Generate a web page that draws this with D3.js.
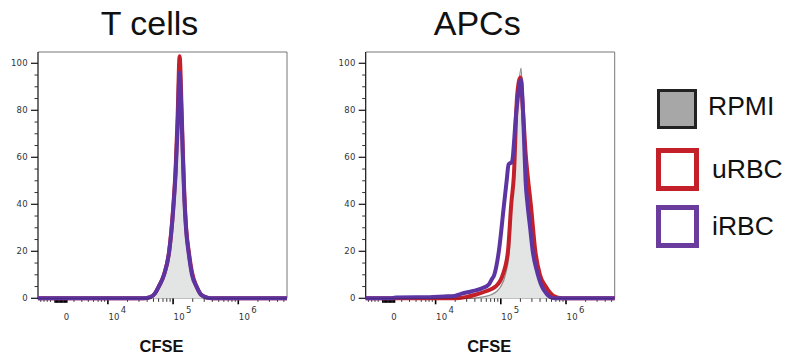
<!DOCTYPE html>
<html>
<head>
<meta charset="utf-8">
<script src="https://cdn.jsdelivr.net/npm/d3@7"></script>
<style>
  body { margin: 0; background: #fff; }
  svg { display: block; font-family: "Liberation Sans", Arial, sans-serif; }
  .tick-label { font-family: "DejaVu Sans", sans-serif; font-size: 8.5px; fill: #333; letter-spacing: 0.3px; }
</style>
</head>
<body>
<div id="chart"></div>
<script>
// x values are in display decades (log10 of CFSE intensity), y in % of max
const xDomain = [2.928, 6.747];
const yDomain = [0, 104.8];
const yMajor = [0, 20, 40, 60, 80, 100];
const yMinor = [5, 10, 15, 25, 30, 35, 45, 50, 55, 65, 70, 75, 85, 90, 95];
const xMajor = [4, 5, 6];
const xZero = 3.365;
const xMinorLow = [2.97, 3.02, 3.07, 3.12, 3.48, 3.60, 3.70, 3.78, 3.85, 3.90, 3.95];
const xZeroBlock = [3.19, 3.21, 3.23, 3.25, 3.27, 3.29, 3.31, 3.33, 3.35, 3.37];
const xMinorLog = [4.301, 4.477, 4.602, 4.699, 4.778, 4.845, 4.903, 4.954,
                   5.301, 5.477, 5.602, 5.699, 5.778, 5.845, 5.903, 5.954,
                   6.301, 6.477, 6.602, 6.699];

const panelTitles = ["T cells", "APCs"];

// T cells
const tRpmi = [[2.928,0],[4.55,0],[4.65,0.5],[4.72,2],[4.78,5],[4.86,10],[4.94,20],[5.00,37],[5.04,54],[5.07,74],[5.10,99],[5.13,79],[5.15,61],[5.17,45],[5.20,30],[5.24,20],[5.29,11],[5.36,5],[5.43,1.5],[5.52,0.3],[5.60,0],[6.747,0]];
const tUrbc = [[2.928,0],[4.55,0],[4.65,0.5],[4.72,2],[4.78,5],[4.86,10],[4.94,20],[5.00,38],[5.04,56],[5.07,78],[5.10,103],[5.13,81],[5.15,62],[5.17,46],[5.20,30],[5.24,20],[5.29,11],[5.36,5],[5.43,1.5],[5.52,0.3],[5.60,0],[6.747,0]];
const tIrbc = [[2.928,0],[4.55,0],[4.65,0.5],[4.72,2],[4.78,5],[4.86,10],[4.94,20],[5.00,37],[5.04,54],[5.07,73],[5.10,96],[5.13,77],[5.15,60],[5.17,44],[5.20,29],[5.24,19],[5.29,10],[5.36,5],[5.43,1.5],[5.52,0.3],[5.60,0],[6.747,0]];

// APCs
const aRpmi = [[2.928,0],[4.50,0],[4.70,0.5],[4.85,1.5],[4.94,3],[5.00,5],[5.07,10],[5.13,20],[5.17,40],[5.21,55],[5.25,80],[5.28,92],[5.31,98],[5.34,82],[5.37,55],[5.40,40],[5.44,30],[5.48,20],[5.54,12],[5.62,5],[5.70,1.5],[5.78,0],[6.747,0]];
const aUrbc = [[2.928,0],[4.30,0],[4.46,0.5],[4.61,1.5],[4.77,3],[4.92,5],[5.03,10],[5.11,20],[5.16,40],[5.20,52],[5.25,86],[5.30,94],[5.34,80],[5.38,62],[5.42,50],[5.46,40],[5.53,20],[5.60,10],[5.69,5],[5.81,1],[5.94,0],[6.747,0]];
const aIrbc = [[2.928,0],[3.30,0],[3.39,0.3],[3.70,0.5],[3.90,0.5],[4.13,0.8],[4.29,1],[4.40,2],[4.56,3],[4.71,4.2],[4.82,6],[4.86,8],[4.90,10],[4.97,20],[5.05,40],[5.09,50],[5.12,57],[5.17,58],[5.24,80],[5.31,93],[5.34,80],[5.36,65],[5.38,50],[5.41,40],[5.45,30],[5.49,20],[5.55,12],[5.63,5],[5.70,2],[5.76,0.5],[5.82,0],[6.747,0]];

const panelData = [
  { rpmi: tRpmi, urbc: tUrbc, irbc: tIrbc },
  { rpmi: aRpmi, urbc: aUrbc, irbc: aIrbc }
];

const legendLabels = ["RPMI", "uRBC", "iRBC"];
const COLORS = { rpmi: "#a7a7a7", fill: "#e3e4e4", rpmiLine: "#8c8c8c", urbc: "#c42029", irbc: "#5c35a3" };

const W = 787, H = 364;
const panelX = [38, 365.7], panelY = 52, pw = 249, ph = 246.3;

const svg = d3.select("#chart").append("svg")
  .attr("width", W).attr("height", H);

const x = d3.scaleLinear().domain(xDomain).range([0, pw]);
const y = d3.scaleLinear().domain(yDomain).range([ph, 0]);

const line = d3.line().x(d => x(d[0])).y(d => y(d[1])).curve(d3.curveMonotoneX);
const area = d3.area().x(d => x(d[0])).y0(y(0)).y1(d => y(d[1])).curve(d3.curveMonotoneX);

panelTitles.forEach((title, i) => {
  const g = svg.append("g").attr("transform", "translate(" + panelX[i] + "," + panelY + ")");
  const data = panelData[i];

  // frame
  g.append("path")
    .attr("d", "M0,0H" + pw + "V" + ph)
    .attr("fill", "none").attr("stroke", "#777").attr("stroke-width", 1);

  // y axis
  g.append("line").attr("x1", 0).attr("x2", 0).attr("y1", 0).attr("y2", ph + 1)
    .attr("stroke", "#111").attr("stroke-width", 1.2);
  g.selectAll(".ymaj").data(yMajor).enter().append("line")
    .attr("x1", -7).attr("x2", 0).attr("y1", d => y(d)).attr("y2", d => y(d))
    .attr("stroke", "#111").attr("stroke-width", 1.2);
  g.selectAll(".ymin").data(yMinor).enter().append("line")
    .attr("x1", -3.5).attr("x2", 0).attr("y1", d => y(d)).attr("y2", d => y(d))
    .attr("stroke", "#333").attr("stroke-width", 1);
  g.selectAll(".ylab").data(yMajor).enter().append("text")
    .attr("class", "tick-label")
    .attr("x", -10).attr("y", d => y(d) + 2.5)
    .attr("text-anchor", "end")
    .text(d => d);

  // x axis
  g.selectAll(".xmin").data(xMinorLow.concat(xMinorLog)).enter().append("line")
    .attr("x1", d => x(d)).attr("x2", d => x(d)).attr("y1", ph).attr("y2", ph + 3.5)
    .attr("stroke", "#333").attr("stroke-width", 1);
  g.selectAll(".xblock").data(xZeroBlock).enter().append("line")
    .attr("x1", d => x(d)).attr("x2", d => x(d)).attr("y1", ph).attr("y2", ph + 4.5)
    .attr("stroke", "#000").attr("stroke-width", 1.6);
  g.selectAll(".xmaj").data(xMajor).enter().append("line")
    .attr("x1", d => x(d)).attr("x2", d => x(d)).attr("y1", ph).attr("y2", ph + 6)
    .attr("stroke", "#000").attr("stroke-width", 1.6);

  g.append("text").attr("class", "tick-label")
    .attr("x", x(xZero)).attr("y", ph + 22).attr("text-anchor", "middle").text("0");
  const xl = g.selectAll(".xlab").data(xMajor).enter().append("text")
    .attr("class", "tick-label")
    .attr("x", d => x(d) + 0.5).attr("y", ph + 22);
  xl.append("tspan").text("10");
  xl.append("tspan").attr("dx", 1).attr("dy", -7).text(d => d);

  // curves
  g.append("path").datum(data.rpmi).attr("d", area)
    .attr("fill", COLORS.fill);
  g.append("path").datum(data.rpmi).attr("d", line)
    .attr("fill", "none").attr("stroke", COLORS.rpmiLine).attr("stroke-width", 1.2);
  g.append("path").datum(data.urbc).attr("d", line)
    .attr("fill", "none").attr("stroke", COLORS.urbc).attr("stroke-width", 4)
    .attr("stroke-linejoin", "round");
  g.append("path").datum(data.irbc).attr("d", line)
    .attr("fill", "none").attr("stroke", COLORS.irbc).attr("stroke-width", 4)
    .attr("stroke-linejoin", "round");

  // x axis baseline on top of the baseline
  g.append("line").attr("x1", 0).attr("x2", pw).attr("y1", ph).attr("y2", ph)
    .attr("stroke", "#111").attr("stroke-width", 0.6).attr("opacity", 0.5);

  // titles
  svg.append("text")
    .attr("x", panelX[i] + pw / 2 - 13).attr("y", 35)
    .attr("text-anchor", "middle")
    .attr("font-size", 34)
    .attr("fill", "#111")
    .text(title);
  svg.append("text")
    .attr("x", panelX[i] + pw / 2 - 1).attr("y", 351.5)
    .attr("text-anchor", "middle")
    .attr("font-size", 16.5).attr("font-weight", "bold")
    .attr("fill", "#111")
    .text("CFSE");
});

// legend
const legend = svg.append("g");
const legendY = [90.5, 150.5, 207.5];
const legendStyle = [
  { fill: COLORS.rpmi, stroke: "#222", sw: 3, size: 37, tx: 708, ty: 115 },
  { fill: "#fff", stroke: COLORS.urbc, sw: 5, size: 38, tx: 712, ty: 178 },
  { fill: "#fff", stroke: "#6a3c9e", sw: 5, size: 38, tx: 712, ty: 235 }
];
legendLabels.forEach((lab, i) => {
  const s = legendStyle[i];
  legend.append("rect")
    .attr("x", 658.5).attr("y", legendY[i])
    .attr("width", s.size).attr("height", s.size)
    .attr("fill", s.fill).attr("stroke", s.stroke).attr("stroke-width", s.sw);
  legend.append("text")
    .attr("x", s.tx).attr("y", s.ty)
    .attr("font-size", 26.5).attr("fill", "#111")
    .text(lab);
});
</script>
</body>
</html>
